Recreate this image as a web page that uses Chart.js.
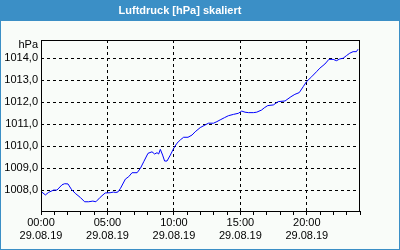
<!DOCTYPE html>
<html>
<head>
<meta charset="utf-8">
<script src="https://cdn.jsdelivr.net/npm/chart.js@4.4.1/dist/chart.umd.min.js"></script>
<style>
html,body{margin:0;padding:0;background:#fff;}
canvas{display:block;}
</style>
</head>
<body>
<canvas id="c" width="400" height="250"></canvas>
<script>
const chartTitle = 'Luftdruck [hPa] skaliert';
const unitLabel = 'hPa';
const dateLabel = '29.08.19';
const hours = [0.0,0.33,0.58,0.95,1.2,1.58,1.78,2.03,2.28,2.58,2.95,3.28,3.58,3.9,4.13,4.45,4.83,5.2,5.45,5.63,5.8,5.98,6.35,6.6,6.85,7.23,7.48,7.73,8.05,8.35,8.55,8.73,8.85,8.98,9.15,9.3,9.48,9.73,9.98,10.23,10.48,10.73,11.06,11.36,11.6,11.98,12.35,12.6,12.98,13.23,13.48,13.8,14.1,14.48,14.85,15.1,15.35,15.6,15.98,16.23,16.6,16.8,17.06,17.48,17.85,18.36,18.8,19.1,19.43,19.73,19.98,20.36,20.73,20.98,21.36,21.66,21.98,22.23,22.48,22.73,22.98,23.23,23.48,23.73,23.85];
const pressure = [1007.95,1007.79,1007.91,1008.01,1008.01,1008.25,1008.30,1008.29,1008.05,1007.86,1007.68,1007.48,1007.48,1007.51,1007.48,1007.68,1007.88,1007.89,1007.92,1007.90,1007.93,1008.09,1008.51,1008.62,1008.80,1008.80,1009.00,1009.30,1009.68,1009.75,1009.65,1009.71,1009.65,1009.86,1009.60,1009.33,1009.33,1009.60,1009.90,1010.14,1010.29,1010.41,1010.41,1010.51,1010.66,1010.85,1010.97,1011.05,1011.05,1011.12,1011.20,1011.30,1011.39,1011.45,1011.50,1011.60,1011.55,1011.53,1011.53,1011.55,1011.65,1011.75,1011.85,1011.88,1012.03,1012.06,1012.25,1012.36,1012.44,1012.71,1012.94,1013.16,1013.39,1013.55,1013.74,1013.95,1013.95,1013.89,1013.97,1014.00,1014.12,1014.23,1014.30,1014.30,1014.41];
const yTicks = [1008,1009,1010,1011,1012,1013,1014];
const xLabelHours = [0,5,10,15,20];

const points = hours.map((h,i)=>({x:h,y:pressure[i]}));

const frame = {
  id:'frame',
  beforeDraw(chart){
    const c = chart.ctx;
    c.save();
    c.fillStyle = '#f9fcf9';
    c.fillRect(0,0,400,250);
    c.fillStyle = '#3b8fc6';
    c.fillRect(0,0,400,21);
    c.strokeStyle = '#3b8fc6';
    c.lineWidth = 1;
    c.strokeRect(0.5,0.5,399,249);
    c.restore();
  },
  afterDraw(chart){
    const c = chart.ctx, a = chart.chartArea;
    c.save();
    c.strokeStyle = '#000';
    c.lineWidth = 1;
    c.strokeRect(Math.round(a.left)+0.5, Math.round(a.top)+0.5, Math.round(a.right-a.left)-1, Math.round(a.bottom-a.top));
    c.fillStyle = '#000';
    c.font = '11px "Liberation Sans"';
    c.textAlign = 'right';
    c.textBaseline = 'middle';
    c.fillText(unitLabel, 38, 45);
    c.restore();
  }
};

new Chart(document.getElementById('c'), {
  type:'line',
  data:{datasets:[{data:points,borderColor:'#0000ff',borderWidth:1,pointRadius:0,tension:0,fill:false}]},
  options:{
    responsive:false,
    devicePixelRatio:1,
    animation:false,
    layout:{padding:{left:0,right:40,top:0,bottom:0}},
    plugins:{
      legend:{display:false},
      tooltip:{enabled:false},
      title:{display:true,text:chartTitle,color:'#ffffff',font:{family:'"Liberation Sans"',size:11,weight:'bold',lineHeight:1.2},padding:{top:4,bottom:22.8}}
    },
    scales:{
      x:{
        type:'linear',min:0,max:24,
        afterFit(s){s.height=39;},
        afterBuildTicks(s){const t=[];for(let h=0;h<=24;h++)t.push({value:h});s.ticks=t;},
        border:{display:false,dash:[3,3]},
        grid:{
          color:(ctx)=>(ctx.tick && ctx.tick.value%5===0 && ctx.tick.value>0 && ctx.tick.value<24)?'#000':'rgba(0,0,0,0)',
          tickColor:'#000',tickLength:4,drawTicks:true,lineWidth:1
        },
        ticks:{
          autoSkip:false,maxRotation:0,minRotation:0,padding:1.4,color:'#000',
          font:{family:'"Liberation Sans"',size:11,lineHeight:1.2},
          callback:(v)=>xLabelHours.includes(v)?[String(v).padStart(2,'0')+':00',dateLabel]:''
        }
      },
      y:{
        min:1007.06,max:1014.83,
        afterFit(s){s.width=41;},
        afterBuildTicks(s){s.ticks=yTicks.map(v=>({value:v}));},
        border:{display:false,dash:[3,3]},
        grid:{color:'#000',drawTicks:false,lineWidth:1},
        ticks:{
          padding:3,color:'#000',
          font:{family:'"Liberation Sans"',size:11,lineHeight:1.2},
          callback:(v)=>v.toFixed(1).replace('.',',')
        }
      }
    }
  },
  plugins:[frame]
});
</script>
</body>
</html>
